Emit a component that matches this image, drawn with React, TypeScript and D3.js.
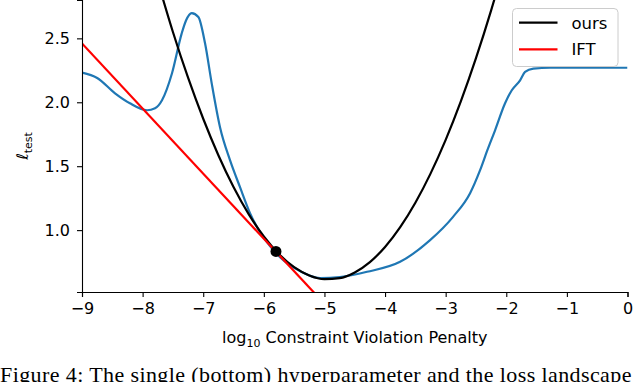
import React, { useEffect, useRef } from "react";
import * as d3 from "d3";

// blue curve (measured test loss)
const blueX = [-9.0, -8.75, -8.455, -8.21, -7.927, -7.795, -7.68, -7.515, -7.355, -7.284, -7.19, -7.08, -6.97, -6.86, -6.723, -6.558, -6.393, -6.228, -6.063, -5.898, -5.733, -5.403, -5.073, -4.743, -4.297, -3.752, -3.257, -2.878, -2.597, -2.432, -2.312, -2.185, -2.02, -1.909, -1.772, -1.69, -1.553, -1.277, 0];
const blueY = [2.232, 2.19, 2.07, 1.992, 1.9375, 1.953, 2.016, 2.227, 2.539, 2.64, 2.698, 2.667, 2.461, 2.148, 1.805, 1.547, 1.336, 1.133, 0.984, 0.875, 0.789, 0.68, 0.625, 0.633, 0.674, 0.752, 0.922, 1.104, 1.289, 1.469, 1.625, 1.781, 1.992, 2.094, 2.172, 2.237, 2.263, 2.27, 2.27];

// "ours" (black)
const oursX = [-7.75, -7.5, -7.25, -7.0, -6.75, -6.5, -6.25, -6.0, -5.75, -5.5, -5.25, -5.0, -4.75, -4.5, -4.25, -4.0, -3.75, -3.5, -3.25, -3.0, -2.75, -2.5, -2.25, -2.0];
const oursY = [2.945, 2.55, 2.192, 1.871, 1.586, 1.337, 1.125, 0.95, 0.812, 0.71, 0.645, 0.616, 0.624, 0.669, 0.75, 0.868, 1.023, 1.214, 1.442, 1.706, 2.007, 2.345, 2.719, 3.13];

// IFT tangent (red)
const iftX = [-9, -5.0];
const iftY = [2.46, 0.424];

// current point
const dotX = [-5.8];
const dotY = [0.833];

const xTicks = [-9, -8, -7, -6, -5, -4, -3, -2, -1, 0];
const yTicks = [1.0, 1.5, 2.0, 2.5];
const legendLabels = ["ours", "IFT"];
const legendColors = ["#000000", "#ff0000"];

const W = 638;
const H = 382;
const FONT = "DejaVu Sans";

const App = () => {
  const ref = useRef<SVGSVGElement>(null);

  useEffect(() => {
    const svg = d3.select(ref.current);
    svg.selectAll("*").remove();

    const left = 82, right = 627.5, top = 0, bottom = 292;
    const x = d3.scaleLinear().domain([-9, 0]).range([left, right]);
    const y = d3.scaleLinear().domain([0.516, 2.8]).range([bottom, top]);

    svg
      .append("defs")
      .append("clipPath")
      .attr("id", "plotclip")
      .append("rect")
      .attr("x", left)
      .attr("y", top)
      .attr("width", right - left)
      .attr("height", bottom - top);

    const plot = svg.append("g").attr("clip-path", "url(#plotclip)");

    const line = d3
      .line<[number, number]>()
      .x((d) => x(d[0]))
      .y((d) => y(d[1]));

    plot
      .append("path")
      .datum(blueX.map((v, i) => [v, blueY[i]] as [number, number]))
      .attr("fill", "none")
      .attr("stroke", "#1f77b4")
      .attr("stroke-width", 2.2)
      .attr("stroke-linejoin", "round")
      .attr("d", line.curve(d3.curveMonotoneX));

    plot
      .append("path")
      .datum(oursX.map((v, i) => [v, oursY[i]] as [number, number]))
      .attr("fill", "none")
      .attr("stroke", "#000")
      .attr("stroke-width", 2.2)
      .attr("d", line.curve(d3.curveMonotoneX));

    plot
      .append("path")
      .datum(iftX.map((v, i) => [v, iftY[i]] as [number, number]))
      .attr("fill", "none")
      .attr("stroke", "#ff0000")
      .attr("stroke-width", 2.2)
      .attr("d", line.curve(d3.curveLinear));

    plot
      .selectAll("circle")
      .data(dotX)
      .join("circle")
      .attr("cx", (d) => x(d))
      .attr("cy", (_d, i) => y(dotY[i]))
      .attr("r", 5.5)
      .attr("fill", "#000");

    // axes
    const xAxis = svg
      .append("g")
      .attr("transform", `translate(0,${bottom})`)
      .call(
        d3
          .axisBottom(x)
          .tickValues(xTicks)
          .tickFormat((d) => (+d < 0 ? `\u2212${Math.abs(+d)}` : `${d}`))
          .tickSizeOuter(0)
          .tickSize(5)
          .tickPadding(6)
      );
    const yAxis = svg
      .append("g")
      .attr("transform", `translate(${left},0)`)
      .call(
        d3
          .axisLeft(y)
          .tickValues(yTicks)
          .tickFormat(d3.format(".1f"))
          .tickSizeOuter(0)
          .tickSize(5)
          .tickPadding(7)
      );
    [xAxis, yAxis].forEach((g) => {
      g.select(".domain").attr("stroke", "#000").attr("stroke-width", 1.1);
      g.selectAll(".tick line").attr("stroke", "#000").attr("stroke-width", 1.1);
      g.selectAll(".tick text")
        .attr("fill", "#000")
        .style("font-family", FONT)
        .style("font-size", "16px");
    });

    // axis labels
    const xl = svg
      .append("text")
      .attr("x", (left + right) / 2)
      .attr("y", 343)
      .attr("text-anchor", "middle")
      .style("font-family", FONT)
      .style("font-size", "16px")
      .attr("fill", "#000");
    xl.append("tspan").text("log");
    xl.append("tspan").attr("dy", 4).style("font-size", "11px").text("10");
    xl.append("tspan").attr("dy", -4).text(" Constraint Violation Penalty");

    const yl = svg
      .append("text")
      .attr("transform", `translate(28,${(top + bottom) / 2}) rotate(-90)`)
      .attr("text-anchor", "middle")
      .style("font-family", FONT)
      .style("font-size", "16px")
      .attr("fill", "#000");
    yl.append("tspan").style("font-style", "italic").text("\u2113");
    yl.append("tspan").attr("dy", 4).style("font-size", "11px").text("test");

    // legend
    const lg = svg.append("g");
    lg.append("rect")
      .attr("x", 512.5)
      .attr("y", 8.5)
      .attr("width", 105.5)
      .attr("height", 58)
      .attr("rx", 4)
      .attr("fill", "#fff")
      .attr("fill-opacity", 0.8)
      .attr("stroke", "#cccccc")
      .attr("stroke-width", 1);
    legendLabels.forEach((lab, i) => {
      const cy = 22.7 + i * 26.6;
      lg.append("line")
        .attr("x1", 519)
        .attr("x2", 557.5)
        .attr("y1", cy)
        .attr("y2", cy)
        .attr("stroke", legendColors[i])
        .attr("stroke-width", 2.2);
      lg.append("text")
        .attr("x", 571.5)
        .attr("y", cy)
        .attr("dy", "0.36em")
        .style("font-family", FONT)
        .style("font-size", "16.5px")
        .attr("fill", "#000")
        .text(lab);
    });

    // caption of the page, cut off at the bottom as in the source
    svg
      .append("text")
      .attr("x", 0)
      .attr("y", 382)
      .style("font-family", "Liberation Serif")
      .style("font-size", "22px")
      .style("letter-spacing", "0.4px")
      .attr("fill", "#000")
      .text("Figure 4: The single (bottom) hyperparameter and the loss landscape");
  }, []);

  return (
    <svg
      ref={ref}
      width={W}
      height={H}
      style={{ position: "absolute", left: 0, top: 0, background: "#fff" }}
    />
  );
};

export default App;
